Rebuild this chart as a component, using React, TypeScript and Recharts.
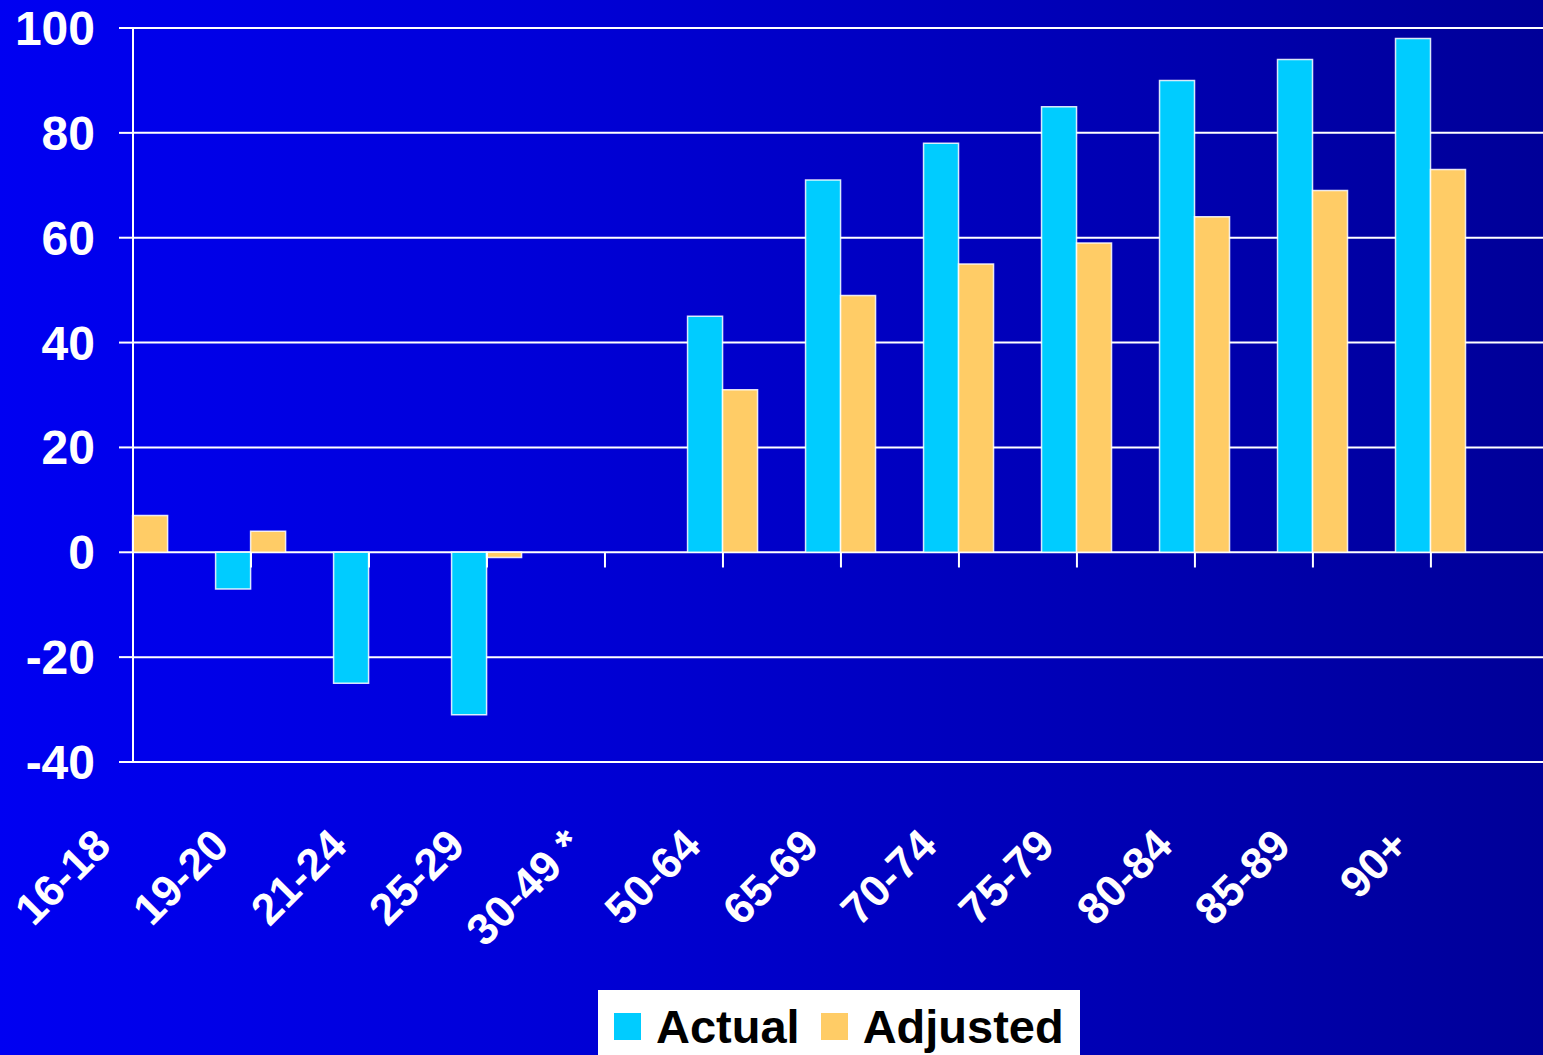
import React from "react";
import { BarChart, Bar, XAxis, YAxis, CartesianGrid, Legend, ReferenceLine } from "recharts";

const AGE_GROUPS = ["16-18", "19-20", "21-24", "25-29", "30-49 *", "50-64", "65-69", "70-74", "75-79", "80-84", "85-89", "90+"];
const ACTUAL = [null, -7, -25, -31, null, 45, 71, 78, 85, 90, 94, 98];
const ADJUSTED = [7, 4, null, -1, null, 31, 49, 55, 59, 64, 69, 73];
const Y_TICKS = [-40, -20, 0, 20, 40, 60, 80, 100];

const FONT = '"Liberation Sans", Arial, Helvetica, sans-serif';
const CYAN = "#00CCFF";
const GOLD = "#FFCC66";

const W = 1543;
const H = 1055;
// the plot starts on the centre of the first slot and runs a bit past the last one
const X_MAX = 11.95;
// how far the category tick marks hang below the zero line (y units)
const TICK_DROP = 2.9;

const data = AGE_GROUPS.map((label, i) => ({
  pos: i,
  label,
  actual: ACTUAL[i],
  adjusted: ADJUSTED[i],
}));

function AgeTick({ x, y, payload }: any) {
  const ax = x - 20;
  return (
    <text
      x={ax}
      y={y}
      transform={`rotate(-45 ${ax} ${y})`}
      textAnchor="end"
      fill="#fff"
      fontSize={44}
      fontWeight="bold"
      fontFamily={FONT}
    >
      {AGE_GROUPS[payload.value]}
    </text>
  );
}

function LegendBox({ payload }: any) {
  return (
    <div
      style={{
        background: "#fff",
        height: 80,
        paddingTop: 13,
        paddingLeft: 16,
        boxSizing: "border-box",
        display: "flex",
        alignItems: "flex-start",
      }}
    >
      {(payload || []).map((p: any, i: number) => (
        <div key={p.value} style={{ display: "flex", alignItems: "center", height: 47, marginLeft: i ? 21 : 0 }}>
          <span style={{ display: "inline-block", width: 27, height: 27, background: p.color, marginRight: 15 }} />
          <span style={{ font: `bold 47px/47px ${FONT}`, color: "#000", whiteSpace: "nowrap" }}>{p.value}</span>
        </div>
      ))}
    </div>
  );
}

export default function App() {
  return (
    <div
      style={{
        position: "fixed",
        left: 0,
        top: 0,
        width: W,
        height: H,
        overflow: "hidden",
        background: "linear-gradient(to right, #0000F2 0%, #0000D8 35%, #000098 100%)",
        fontFamily: FONT,
      }}
    >
      <BarChart
        width={W}
        height={H}
        data={data}
        margin={{ top: 28, right: 0, left: 0, bottom: 93 }}
        barGap={0}
        barCategoryGap="20%"
      >
        <CartesianGrid horizontal vertical={false} stroke="#fff" strokeWidth={2} />
        <XAxis
          type="number"
          dataKey="pos"
          domain={[0, X_MAX]}
          ticks={AGE_GROUPS.map((_, i) => i)}
          interval={0}
          height={200}
          axisLine={false}
          tickLine={false}
          tickSize={0}
          tickMargin={86}
          tick={<AgeTick />}
        />
        <YAxis
          width={133}
          domain={[-40, 100]}
          ticks={Y_TICKS}
          interval={0}
          axisLine={{ stroke: "#fff", strokeWidth: 2 }}
          tickLine={{ stroke: "#fff", strokeWidth: 2 }}
          tickSize={14}
          tickMargin={24}
          tick={{ fill: "#fff", fontSize: 48, fontWeight: "bold", fontFamily: FONT }}
        />
        <Bar
          dataKey="actual"
          name="Actual"
          fill={CYAN}
          stroke="#fff"
          strokeOpacity={0.85}
          strokeWidth={1.5}
          isAnimationActive={false}
        />
        <Bar
          dataKey="adjusted"
          name="Adjusted"
          fill={GOLD}
          stroke="#fff"
          strokeOpacity={0.85}
          strokeWidth={1.5}
          isAnimationActive={false}
        />
        {AGE_GROUPS.map((g, i) => (
          <ReferenceLine
            key={g}
            segment={[
              { x: i, y: 0 },
              { x: i, y: -TICK_DROP },
            ]}
            stroke="#fff"
            strokeWidth={2}
          />
        ))}
        <Legend
          layout="horizontal"
          verticalAlign="middle"
          align="center"
          wrapperStyle={{ left: 598, top: 990, width: 482 }}
          content={<LegendBox />}
        />
      </BarChart>
    </div>
  );
}
